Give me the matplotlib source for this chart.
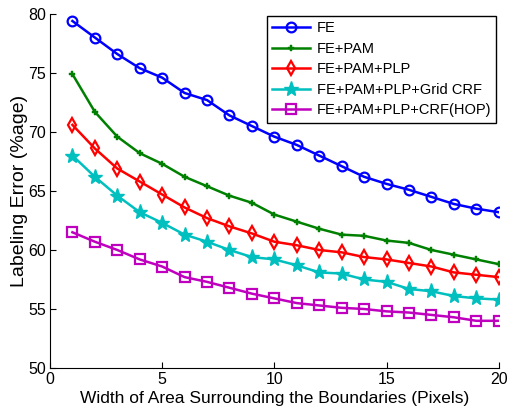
import numpy as np
import matplotlib.pyplot as plt

plt.rcParams['font.family'] = ['Liberation Sans', 'DejaVu Sans']

# widths of the area around the boundaries (pixels)
widths = np.arange(1, 21)

# labeling error (%age)
fe = [79.4, 78.0, 76.6, 75.4, 74.6, 73.3, 72.7, 71.4, 70.5, 69.6,
      68.9, 68.0, 67.1, 66.2, 65.6, 65.1, 64.5, 63.9, 63.5, 63.2]
fe_pam = [74.9, 71.7, 69.6, 68.2, 67.3, 66.2, 65.4, 64.6, 64.0, 63.0,
          62.4, 61.8, 61.3, 61.2, 60.8, 60.6, 60.0, 59.6, 59.2, 58.8]
fe_pam_plp = [70.6, 68.6, 66.9, 65.8, 64.7, 63.6, 62.7, 62.0, 61.4, 60.7,
              60.4, 60.0, 59.8, 59.4, 59.2, 58.9, 58.6, 58.1, 57.9, 57.7]
grid_crf = [68.0, 66.2, 64.6, 63.2, 62.3, 61.3, 60.7, 60.0, 59.4, 59.2,
            58.7, 58.1, 58.0, 57.5, 57.3, 56.7, 56.5, 56.1, 55.9, 55.8]
crf_hop = [61.5, 60.7, 60.0, 59.2, 58.6, 57.7, 57.3, 56.8, 56.3, 55.9,
           55.5, 55.3, 55.1, 55.0, 54.8, 54.7, 54.5, 54.3, 54.0, 54.0]

labels = ['FE', 'FE+PAM', 'FE+PAM+PLP', 'FE+PAM+PLP+Grid CRF', 'FE+PAM+PLP+CRF(HOP)']

fig = plt.figure(figsize=(5.07, 4.07), dpi=100)
ax = fig.add_axes([0.0986, 0.0958, 0.885, 0.87])

lw = 1.8
ax.plot(widths, fe, color='b', lw=lw, marker='o', ms=7, mfc='none', mew=1.6, label=labels[0])
ax.plot(widths, fe_pam, color=(0, 0.5, 0), lw=lw, marker='P', ms=5, mew=0.3, label=labels[1])
ax.plot(widths, fe_pam_plp, color='r', lw=lw, marker='d', ms=7, mfc='none', mew=1.6, label=labels[2])
ax.plot(widths, grid_crf, color=(0, 0.75, 0.75), lw=lw, marker='*', ms=11, label=labels[3])
ax.plot(widths, crf_hop, color=(0.75, 0, 0.75), lw=lw, marker='s', ms=6.5, mfc='none', mew=1.6, label=labels[4])

ax.set_xlim(0, 20)
ax.set_ylim(50, 80)
ax.set_xticks([0, 5, 10, 15, 20])
ax.set_yticks([50, 55, 60, 65, 70, 75, 80])
ax.tick_params(direction='in', labelsize=11.5, length=4, pad=3)
ax.spines['top'].set_visible(False)
ax.spines['right'].set_visible(False)
ax.set_xlabel('Width of Area Surrounding the Boundaries (Pixels)', fontsize=12.5, labelpad=2.5)
ax.set_ylabel('Labeling Error (%age)', fontsize=14, labelpad=0)

leg = ax.legend(loc='upper right', fontsize=10.5, fancybox=False, framealpha=1,
                edgecolor='k', handlelength=2.6, borderpad=0.35, labelspacing=0.45,
                handletextpad=0.5, borderaxespad=0.15)
leg.get_frame().set_linewidth(1)

fig.savefig('out.png')
